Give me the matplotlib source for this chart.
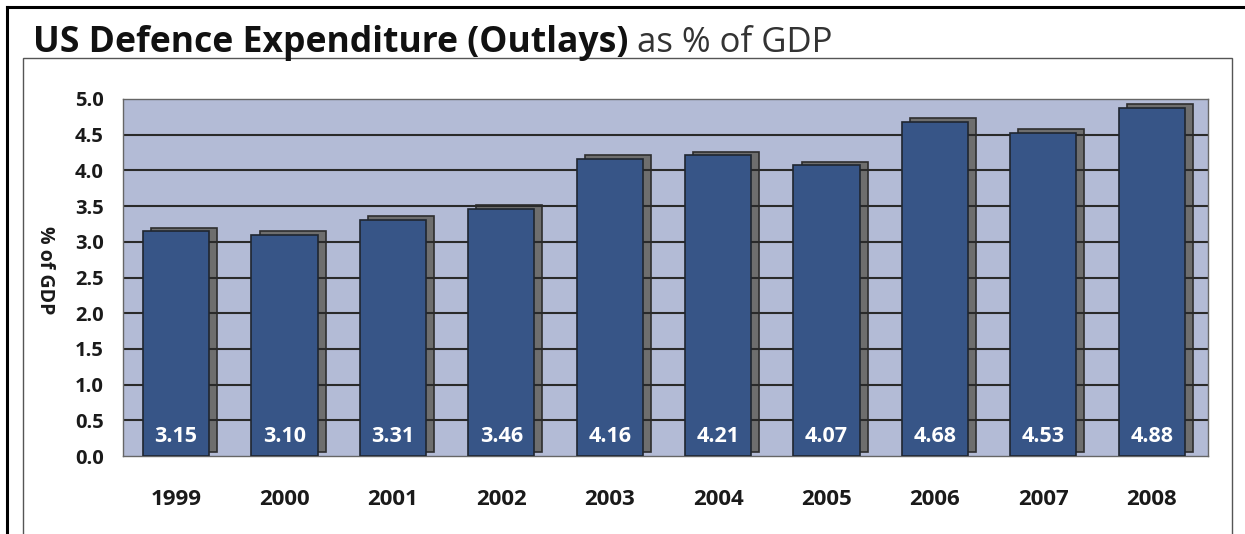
import matplotlib
matplotlib.use("Agg")
import matplotlib.pyplot as plt
from matplotlib.lines import Line2D
from matplotlib.patches import Rectangle
import numpy as np

# ── Data ────────────────────────────────────────────────────────────────
years = ["1999", "2000", "2001", "2002", "2003", "2004", "2005", "2006", "2007", "2008"]
pct_gdp = [3.15, 3.10, 3.31, 3.46, 4.16, 4.21, 4.07, 4.68, 4.53, 4.88]
y_ticks = [0.0, 0.5, 1.0, 1.5, 2.0, 2.5, 3.0, 3.5, 4.0, 4.5, 5.0]

W, H = 1245, 534
plt.rcParams["font.family"] = ["Open Sans", "DejaVu Sans"]

fig = plt.figure(figsize=(W / 100, H / 100), dpi=100)


def px(x0, y0, x1, y1):
    # pixel box (top-left origin) -> figure fraction [l, b, w, h]
    return [x0 / W, 1 - y1 / H, (x1 - x0) / W, (y1 - y0) / H]


# frames
fig.add_artist(Line2D([7 / W, 1], [1 - 7 / H, 1 - 7 / H], color="black", lw=2.2))
fig.add_artist(Line2D([7 / W, 7 / W], [0, 1 - 7 / H], color="black", lw=2.2))
fig.add_artist(Rectangle((23 / W, -0.05), (1232 - 23) / W, 1 - 58 / H + 0.05,
                         fill=False, edgecolor="#555555", lw=1.0))

ax = fig.add_axes(px(123, 99, 1208, 456))
ax.set_facecolor("#b3bbd6")

x = np.arange(len(years))
bw = 0.61
dx, dy = 0.075, 0.05

# drop shadow behind each bar, grid between shadow and bar
ax.bar(x + dx, pct_gdp, bw, bottom=dy, color="#6e6e6e", edgecolor="#2e2e2e",
       lw=1.2, zorder=1)
for t in y_ticks[1:-1]:
    ax.axhline(t, color="#2a2a2a", lw=1.5, zorder=2)
ax.bar(x, pct_gdp, bw, color="#375587", edgecolor="#1f2630", lw=1.2, zorder=3)

for xi, v in zip(x, pct_gdp):
    ax.text(xi, 0.28, f"{v:.2f}", ha="center", va="center", color="white",
            fontsize=15.5, fontweight="bold", zorder=4)

ax.set_xlim(-0.49, len(years) - 0.48)
ax.set_ylim(0, 5.0)
ax.set_yticks(y_ticks)
ax.set_yticklabels([f"{t:.1f}" for t in y_ticks], fontsize=14.5, fontweight="bold",
                   color="#1a1a1a")
ax.set_xticks(x)
ax.set_xticklabels(years, fontsize=16, fontweight="bold", color="#1a1a1a")
ax.tick_params(axis="y", length=0, pad=14)
ax.tick_params(axis="x", length=0, pad=24)
for s in ax.spines.values():
    s.set_color("#666666")
    s.set_linewidth(1.0)

fig.text(45 / W, 1 - 270 / H, "% of GDP", rotation=270, ha="center", va="center",
         fontsize=14, fontweight="bold", color="#1a1a1a")

# title: bold part + regular part
t1 = fig.text(33 / W, 1 - 52 / H, "US Defence Expenditure (Outlays)", fontsize=25.6,
              fontweight="bold", color="#111111", ha="left", va="baseline")
fig.canvas.draw()
bb = t1.get_window_extent(fig.canvas.get_renderer())
fig.text((bb.x1 + 9) / W, 1 - 52 / H, "as % of GDP", fontsize=25,
         color="#333333", ha="left", va="baseline")

fig.savefig("out.png", dpi=100)
